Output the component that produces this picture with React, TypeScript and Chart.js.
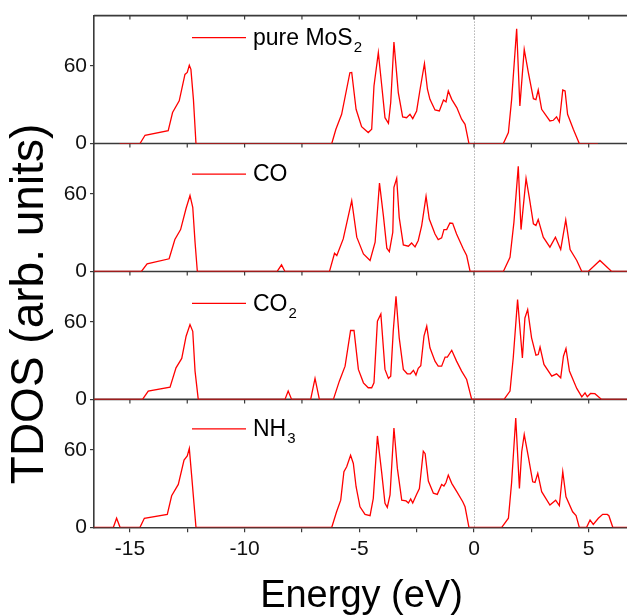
import React, { useEffect, useRef } from 'react';
import { Chart, registerables } from 'chart.js';

Chart.register(...registerables);

// ---------- data ----------
const xTickValues = [-15, -12.5, -10, -7.5, -5, -2.5, 0, 2.5, 5];
const yTickValues = [0, 30, 60, 90];
const yLabelValues = [0, 60];

const pureE = [-15.45, -14.56, -14.34, -13.33, -13.14, -12.85, -12.6, -12.5, -12.41, -12.34, -12.23, -12.12,
  -6.2, -6.02, -5.77, -5.41, -5.33, -5.14, -4.9, -4.61, -4.46, -4.36, -4.17, -4.02, -3.88, -3.73, -3.63, -3.49, -3.3, -3.11, -2.94, -2.79,
  -2.67, -2.5, -2.35, -2.16, -2.03, -1.92, -1.7, -1.51, -1.33, -1.22, -1.12, -0.97, -0.75, -0.54, -0.39, -0.22,
  1.28, 1.5, 1.64, 1.86, 2.0, 2.19, 2.37, 2.59, 2.7, 2.8, 2.95, 3.31, 3.46, 3.6, 3.72, 3.87, 3.97, 4.08, 4.33, 4.59, 5.4];
const pureD = [0, 0, 6.4, 10, 24, 33, 53.5, 55, 60.5, 57.4, 34, 0,
  0, 11, 22.6, 54.8, 55, 26.5, 13, 8.5, 11, 44.5, 70.3, 44.5, 20, 15.7, 31.7, 78.5, 39.4, 20.6, 20, 22.6,
  19.3, 25.2, 42, 61.8, 42, 34.2, 26, 25.2, 33.7, 32.3, 40.7, 34.2, 27.8, 18.8, 14.9, 0,
  0, 8.5, 34, 88.8, 29, 72.8, 54.8, 34.7, 34, 41.4, 26.5, 17.5, 18, 20.6, 16.7, 41.4, 40.7, 22.6, 11, 0, 0];

const coE = [-16.8, -14.5, -14.25, -13.29, -13.04, -12.79, -12.55, -12.38, -12.26, -12.16, -12.06, -8.58, -8.39, -8.24,
  -6.3, -6.08, -5.98, -5.7, -5.33, -5.11, -4.82, -4.53, -4.31, -4.12, -3.95, -3.8, -3.69, -3.54, -3.49, -3.37, -3.26, -3.08, -2.86, -2.72,
  -2.57, -2.43, -2.28, -2.09, -1.95, -1.7, -1.56, -1.41, -1.31, -1.19, -1.05, -0.93, -0.76, -0.47, -0.32, -0.17,
  1.28, 1.57, 1.74, 1.93, 2.05, 2.27, 2.41, 2.59, 2.7, 2.8, 3.02, 3.31, 3.55, 3.78, 4.0, 4.19, 4.48, 4.7, 4.98, 5.49, 6.0, 6.9];
const coD = [0, 0, 5.9, 9.8, 24.7, 32.4, 48.9, 58.7, 49.7, 22.6, 0, 0, 5.1, 0,
  0, 14.1, 12.3, 25.2, 54.8, 26.5, 13.6, 8.5, 22.6, 68.4, 43.2, 18, 15.4, 30.3, 65.1, 72, 41.9, 20.5, 19.5, 22,
  19, 24, 35.5, 58.1, 40.6, 29, 24.7, 26, 32.4, 32.4, 37.5, 37.3, 29, 17.5, 12.3, 0,
  0, 11, 38, 81.3, 32.4, 72, 57.4, 36.8, 35.5, 40.2, 26.5, 18.8, 26.5, 17, 39.9, 17, 8.5, 0, 0, 8.5, 0, 0];

const co2E = [-16.8, -14.45, -14.2, -13.25, -12.99, -12.74, -12.55, -12.38, -12.26, -12.16, -12.02, -8.24, -8.1, -7.95, -7.12, -6.93, -6.74,
  -6.13, -5.87, -5.62, -5.38, -5.23, -5.04, -4.82, -4.61, -4.46, -4.36, -4.21, -4.06, -3.88, -3.73, -3.63, -3.52, -3.4, -3.26, -3.08, -2.91,
  -2.77, -2.64, -2.53, -2.43, -2.32, -2.18, -2.06, -1.92, -1.7, -1.56, -1.41, -1.26, -1.16, -0.97, -0.76, -0.54, -0.32, -0.1,
  1.31, 1.57, 1.71, 1.9, 2.11, 2.22, 2.34, 2.51, 2.7, 2.8, 2.88, 3.05, 3.39, 3.6, 3.78, 3.9, 4.01, 4.16, 4.48, 4.7,
  4.84, 4.94, 5.08, 5.27, 5.56, 6.9];
const co2D = [0, 0, 6.4, 9.5, 24.4, 31.7, 48.9, 57.9, 52.7, 21.9, 0, 0, 6.4, 0, 0, 16.2, 0,
  0, 14.1, 25.7, 53.3, 53.3, 23.2, 12.8, 9, 9, 12.8, 60.5, 66.1, 23.2, 16.2, 18, 52.7, 79.8, 47.6, 23.2, 19.8,
  19.8, 22.5, 18.8, 24, 26, 48.9, 56.6, 39.9, 29.6, 25.7, 25.7, 32.7, 32.7, 38, 29.6, 21.9, 15.4, 0,
  0, 6.4, 32, 77.2, 32, 63, 69.5, 47.6, 34.2, 34.7, 40.4, 27, 18, 19.8, 16.7, 33.4, 39.4, 22, 8.5, 2,
  5, 2, 4.6, 4.4, 0, 0];

const nh3E = [-16.8, -15.72, -15.58, -15.43, -14.56, -14.37, -13.37, -13.18, -12.89, -12.64, -12.5, -12.41, -12.31, -12.12,
  -6.2, -5.99, -5.81, -5.67, -5.55, -5.38, -5.26, -5.14, -4.97, -4.75, -4.53, -4.39, -4.21, -4.02, -3.88, -3.78, -3.66, -3.49, -3.34, -3.15,
  -2.96, -2.86, -2.76, -2.67, -2.5, -2.38, -2.21, -2.13, -1.99, -1.77, -1.6, -1.41, -1.31, -1.22, -1.12, -0.97, -0.75, -0.49, -0.39, -0.22,
  1.21, 1.5, 1.64, 1.82, 1.98, 2.08, 2.19, 2.37, 2.56, 2.66, 2.78, 2.95, 3.31, 3.56, 3.72, 3.87, 4.01, 4.3, 4.45, 4.59,
  4.91, 5.06, 5.2, 5.42, 5.61, 5.81, 5.88, 6.05, 6.9];
const nh3D = [0, 0, 7, 0, 0, 7, 10, 24.4, 33.2, 52, 55.3, 61, 40.4, 0,
  0, 12, 21, 43, 46.8, 55.8, 49.4, 31.4, 15.9, 10, 9, 22.4, 70.7, 41.7, 18.5, 15.4, 25, 76.9, 45.6, 21,
  20.4, 18.8, 22, 18.8, 25.5, 30, 58.9, 57, 35.8, 26.4, 25.5, 33.2, 32, 34.7, 40.4, 34, 27.6, 19.8, 15.9, 0,
  0, 7, 34.7, 84.6, 30, 58.4, 71.8, 54.5, 35.2, 34.7, 41.7, 27.6, 17.2, 21, 16.7, 43, 23.6, 12, 9, 0,
  0, 5.6, 2.3, 7, 10, 10, 9, 0, 0];

// panels from top to bottom
const panelIds = ['yPure', 'yCO', 'yCO2', 'yNH3'];
const legendMain = ['pure MoS', 'CO', 'CO', 'NH'];
const legendSub = ['2', '', '2', '3'];
const panelE = [pureE, coE, co2E, nh3E];
const panelD = [pureD, coD, co2D, nh3D];

const xTitle = 'Energy (eV)';
const yTitle = 'TDOS (arb. units)';

// ---------- style ----------
const W = 627;
const H = 615;
const FONT = '"Liberation Sans", Arial, Helvetica, sans-serif';
const AXIS = '#3a3a3a';
const RED = '#ff0000';
const legendOffsets = [22, 30.5, 32, 29.5];

const decorPlugin = {
  id: 'decor',
  beforeDatasetsDraw(chart: any) {
    const { ctx, chartArea, scales } = chart;
    const xs = scales.x;
    ctx.save();
    const x0 = Math.round(xs.getPixelForValue(0)) + 0.5;
    ctx.strokeStyle = '#8a8a8a';
    ctx.lineWidth = 1;
    ctx.setLineDash([1, 2]);
    ctx.beginPath();
    ctx.moveTo(x0, chartArea.top);
    ctx.lineTo(x0, chartArea.bottom);
    ctx.stroke();
    ctx.setLineDash([]);
    ctx.strokeStyle = AXIS;
    for (const id of panelIds) {
      const s = scales[id];
      const y = s.top;
      ctx.lineWidth = 1.6;
      ctx.beginPath();
      ctx.moveTo(chartArea.left, y);
      ctx.lineTo(chartArea.right, y);
      ctx.stroke();
      ctx.lineWidth = 1.2;
      ctx.beginPath();
      for (const v of xTickValues) {
        const px = xs.getPixelForValue(v);
        ctx.moveTo(px, y);
        ctx.lineTo(px, y + 4);
      }
      ctx.stroke();
    }
    ctx.restore();
  },
  afterDraw(chart: any) {
    const { ctx, chartArea, scales } = chart;
    ctx.save();
    panelIds.forEach((id, i) => {
      const s = scales[id];
      const y = s.top + legendOffsets[i];
      ctx.strokeStyle = RED;
      ctx.lineWidth = 1.3;
      ctx.beginPath();
      ctx.moveTo(192, y);
      ctx.lineTo(246, y);
      ctx.stroke();
      ctx.fillStyle = '#000';
      ctx.textBaseline = 'middle';
      ctx.textAlign = 'left';
      ctx.font = `23px ${FONT}`;
      ctx.fillText(legendMain[i], 253, y + 1);
      const w = ctx.measureText(legendMain[i]).width;
      if (legendSub[i]) {
        ctx.font = `15px ${FONT}`;
        ctx.fillText(legendSub[i], 253 + w + 1, y + 10);
      }
    });
    ctx.fillStyle = '#000';
    ctx.font = `38px ${FONT}`;
    ctx.textAlign = 'center';
    ctx.textBaseline = 'alphabetic';
    ctx.fillText(xTitle, (chartArea.left + chartArea.right) / 2 + 1, 607);
    ctx.font = `46px ${FONT}`;
    ctx.translate(30, 304);
    ctx.rotate(-Math.PI / 2);
    ctx.textBaseline = 'middle';
    ctx.fillText(yTitle, 0, 0);
    ctx.restore();
  },
};

function yScale() {
  return {
    type: 'linear',
    position: 'left',
    stack: 'tdos',
    stackWeight: 1,
    offset: false,
    min: 0,
    max: 99,
    afterFit: (s: any) => { s.width = 94; },
    afterBuildTicks: (s: any) => { s.ticks = yTickValues.map((v) => ({ value: v })); },
    border: { color: AXIS, width: 1.6 },
    grid: { drawOnChartArea: false, drawTicks: true, tickLength: 4, color: AXIS, lineWidth: 1.2 },
    ticks: {
      font: { family: FONT, size: 21 },
      color: '#111',
      padding: 3,
      callback: (v: any) => (yLabelValues.includes(Number(v)) ? String(v) : ''),
    },
  };
}

export default function App() {
  const ref = useRef<HTMLCanvasElement | null>(null);
  useEffect(() => {
    document.body.style.margin = '0';
    const canvas = ref.current;
    if (!canvas) return;
    const datasets = panelIds.map((id, i) => ({
      label: legendMain[i] + legendSub[i],
      data: panelE[i].map((x, k) => ({ x, y: panelD[i][k] })),
      yAxisID: id,
      xAxisID: 'x',
      borderColor: RED,
      borderWidth: 1.3,
      pointRadius: 0,
      tension: 0,
      fill: false,
    }));
    const scales: any = {
      x: {
        type: 'linear',
        position: 'bottom',
        min: -16.565,
        max: 6.67,
        afterFit: (s: any) => { s.height = 87.7; },
        afterBuildTicks: (s: any) => { s.ticks = xTickValues.map((v) => ({ value: v })); },
        border: { color: AXIS, width: 1.6 },
        grid: { drawOnChartArea: false, drawTicks: true, tickLength: 5, color: AXIS, lineWidth: 1.2 },
        ticks: {
          font: { family: FONT, size: 21 },
          color: '#111',
          padding: 4,
          maxRotation: 0,
          autoSkip: false,
          callback: (v: any) => (Number(v) % 5 === 0 ? String(v) : ''),
        },
      },
    };
    [...panelIds].reverse().forEach((id) => { scales[id] = yScale(); });
    const chart = new Chart(canvas, {
      type: 'line',
      data: { datasets } as any,
      options: {
        responsive: false,
        animation: false,
        events: [],
        layout: { padding: { top: 12.7, left: 0, right: 0, bottom: 0 } },
        plugins: { legend: { display: false }, tooltip: { enabled: false }, title: { display: false } },
        scales,
      } as any,
      plugins: [decorPlugin],
    });
    return () => chart.destroy();
  }, []);
  return (
    <div style={{ position: 'absolute', left: 0, top: 0, width: W, height: H, background: '#fff' }}>
      <canvas ref={ref} width={W} height={H} style={{ display: 'block', width: W, height: H }} />
    </div>
  );
}
